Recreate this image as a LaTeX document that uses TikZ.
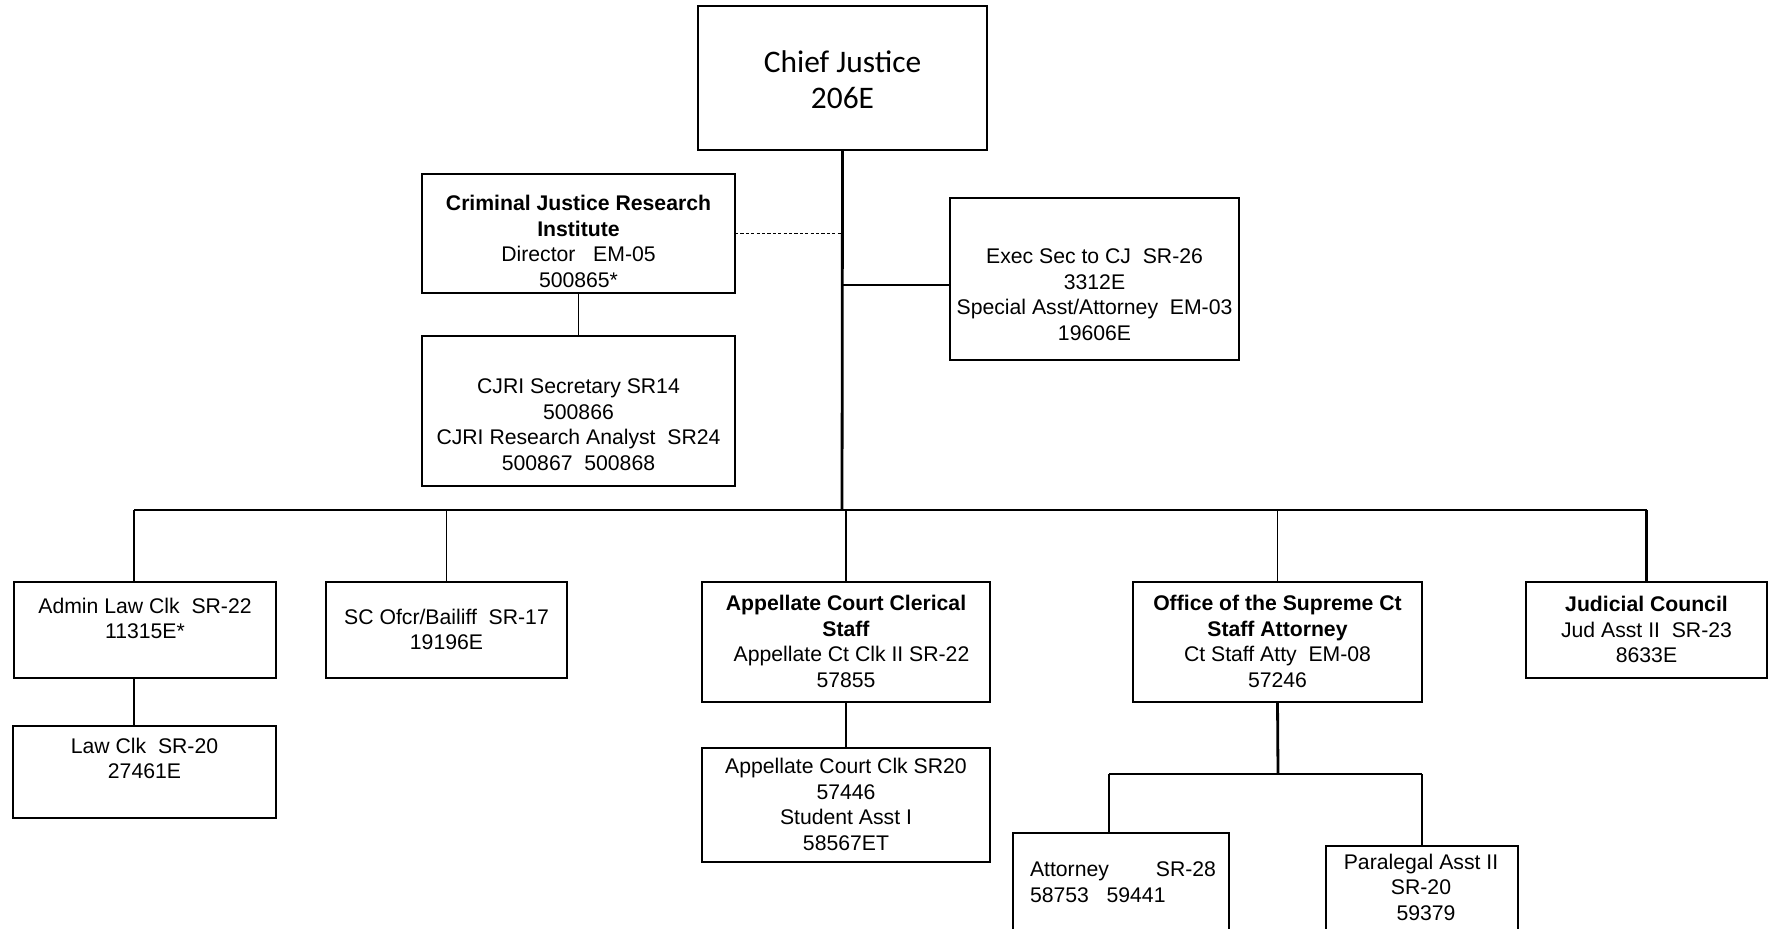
\documentclass[tikz,border=0pt]{standalone}
\usepackage{fontspec}
\setmainfont{Liberation Sans}
\newfontfamily\cjfont{Carlito}

% a box given by its corners, in pixel units
\newcommand\mkbox[6][]{%
  \node[orgbox,#1, minimum width={(#5-#3)*0.5pt}, minimum height={(#6-#4)*0.5pt}]
    (#2) at ({(#3+#5)/2},{(#4+#6)/2}) {};}
% centred lines of text
\newcommand\stack[1]{\begin{tabular}{@{}c@{}}#1\end{tabular}}

\begin{document}
\begin{tikzpicture}[x=0.5pt,y=-0.5pt,
  orgbox/.style={draw, line width=0.95pt, inner sep=0pt, outer sep=0pt, rectangle},
  orgtext/.style={inner sep=0pt, outer sep=0pt, font=\fontsize{10.6}{12.75}\selectfont},
  chieftext/.style={inner sep=0pt, outer sep=0pt, font=\cjfont\fontsize{15.7}{18}\selectfont},
  thinlink/.style={line width=0.55pt},
  link/.style={line width=0.8pt},
  boldlink/.style={line width=1.4pt},
  dotlink/.style={line width=0.45pt, dash pattern=on 1.6pt off 1.1pt}]

\useasboundingbox (0,0) rectangle (1775,929);
\clip (0,0) rectangle (1775,929);

% ---- boxes ----
\mkbox{chief}{698}{6}{987}{150}
\mkbox{cjri}{422}{174}{735}{293}
\mkbox{cjrisub}{422}{336}{735}{486}
\mkbox{exec}{950}{198}{1239}{360}
\mkbox{admin}{14}{582}{276}{678}
\mkbox{lawclk}{13}{726}{276}{818}
\mkbox{sc}{326}{582}{567}{678}
\mkbox[line width=0.75pt]{appel}{702}{582}{990}{702}
\mkbox[line width=0.75pt]{appelsub}{702}{748}{990}{862}
\mkbox{office}{1133}{582}{1422}{702}
\mkbox{judicial}{1526}{582}{1767}{678}
\mkbox{attorney}{1013}{833}{1229}{950}
\mkbox[line width=0.75pt]{paralegal}{1326}{846}{1518}{950}

% ---- texts ----
\node[chieftext] (t-chief) at (842.5,83) {\stack{Chief Justice\\206E}};
\node[orgtext] (t-cjri) at (578.5,244) {\stack{\textbf{Criminal Justice Research}\\\textbf{Institute}\\Director~~~EM-05\\500865*}};
\node[orgtext] (t-cjrisub) at (578.5,427) {\stack{CJRI Secretary SR14\\500866\\CJRI Research Analyst~~SR24\\500867~~500868}};
\node[orgtext] (t-exec) at (1094.5,297) {\stack{Exec Sec to CJ~~SR-26\\3312E\\Special Asst/Attorney~~EM-03\\19606E}};
\node[orgtext] (t-admin) at (145,621) {\stack{Admin Law Clk~~SR-22\\11315E*}};
\node[orgtext] (t-lawclk) at (144.5,761) {\stack{Law Clk~~SR-20\\27461E}};
\node[orgtext] (t-sc) at (446.5,632) {\stack{SC Ofcr/Bailiff~~SR-17\\19196E}};
\node[orgtext] (t-appel) at (846,644) {\stack{\textbf{Appellate Court Clerical}\\\textbf{Staff}\\\hspace*{5.5pt}Appellate Ct Clk II SR-22\\57855}};
\node[orgtext] (t-appelsub) at (846,807) {\stack{Appellate Court Clk SR20\\57446\\Student Asst I\\58567ET}};
\node[orgtext] (t-office) at (1277.5,644) {\stack{\textbf{Office of the Supreme Ct}\\\textbf{Staff Attorney}\\Ct Staff Atty~~EM-08\\57246}};
\node[orgtext] (t-judicial) at (1646.5,632) {\stack{\textbf{Judicial Council}\\Jud Asst II~~SR-23\\8633E}};
\node[orgtext, anchor=west] (t-attorney) at (1030,884.4)
  {\begin{tabular}{@{}l@{}}\makebox[93pt][s]{Attorney\hfill SR-28}\\58753~~~59441\end{tabular}};
\node[orgtext] (t-paralegal) at (1421,889.7) {\stack{Paralegal Asst II\\SR-20\\\hspace*{5pt}59379}};

% ---- connectors ----
\coordinate (bus) at (842,510);
\coordinate (busL) at (134,510);
\coordinate (execj) at (842,285);
\coordinate (obus) at (1278,774);
\coordinate (attdrop) at (1109,774);

\draw[boldlink] (chief.south) -- (bus);
\draw[dotlink] (cjri.east) -- (cjri.east -| chief.south);
\draw[link] (cjri.south) -- (cjrisub.north);
\draw[boldlink] (execj) -- (execj -| exec.west);

\draw[boldlink] (busL) -- (bus);
\draw[link] (bus) -- (bus -| judicial.north);
\draw[link] (busL) -- (busL |- admin.north);
\draw[link] (sc.north |- bus) -- (sc.north);
\draw[boldlink] (appel.north |- bus) -- (appel.north);
\draw[thinlink] (office.north |- bus) -- (office.north);
\draw[boldlink] (judicial.north |- bus) -- (judicial.north);

\draw[thinlink] (busL |- admin.south) -- (busL |- lawclk.north);
\draw[boldlink] (appel.south) -- (appelsub.north);

\draw[boldlink] (office.south) -- (obus);
\draw[boldlink] (attdrop) -- (obus -| paralegal.north);
\draw[boldlink] (attdrop) -- (attdrop |- attorney.north);
\draw[boldlink] (obus -| paralegal.north) -- (paralegal.north);
\end{tikzpicture}
\end{document}
